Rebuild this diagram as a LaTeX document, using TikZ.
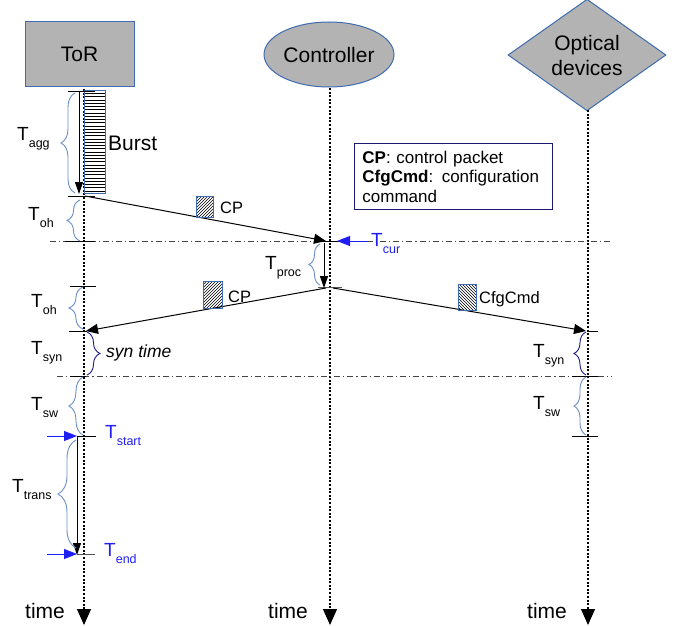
\documentclass[tikz,border=0pt]{standalone}
\usepackage{fontspec}
\setmainfont{Liberation Sans}
\usetikzlibrary{shapes.geometric,arrows.meta,decorations.pathreplacing,patterns}

\definecolor{boxfill}{HTML}{B3B3B3}
\definecolor{boxline}{HTML}{3F6BB0}
\definecolor{bracelight}{HTML}{6A8FC8}
\definecolor{bracedark}{HTML}{1C1C8A}
\definecolor{tblue}{HTML}{1F1FF5}
\definecolor{legendline}{HTML}{1A1A70}
\definecolor{tickgray}{HTML}{555555}
\definecolor{phasegray}{HTML}{444444}

% time symbol with a lowered subscript
\newcommand{\tlab}[1]{T\raisebox{-7pt}{\fontsize{12.5}{13}\selectfont #1}}

\begin{document}
\begin{tikzpicture}[x=1pt,y=-1pt,
  every node/.style={font=\fontsize{21}{23}\selectfont},
  actor/.style={draw=boxline, line width=1pt, fill=boxfill, inner sep=0pt},
  lifeline/.style={line width=1.2pt, dash pattern=on 2pt off 1.6pt,
    -{Triangle[length=16pt,width=14pt]}},
  msg/.style={line width=1pt, -{Triangle[length=12pt,width=10pt]}},
  span/.style={line width=1pt, -{Triangle[length=12pt,width=8pt]}},
  tickline/.style={line width=1pt},
  graytick/.style={line width=1pt, tickgray},
  phase/.style={line width=0.9pt, phasegray, dash pattern=on 6pt off 3pt on 1.2pt off 3pt},
  bracel/.style={decorate, decoration={brace, amplitude=#1}, line width=0.9pt, bracelight},
  braced/.style={decorate, decoration={brace, amplitude=#1}, line width=0.9pt, bracedark},
  tlabel/.style={anchor=base west, inner sep=0pt, font=\fontsize{19}{20}\selectfont},
  bluearrow/.style={tblue, line width=1pt, -{Triangle[length=13pt,width=10pt]}},
  packet/.style={draw=boxline, line width=0.8pt, inner sep=0pt},
  pklabel/.style={anchor=base west, inner sep=0pt, font=\fontsize{16.5}{18}\selectfont},
  timelabel/.style={anchor=base west, inner sep=0pt},
]
\useasboundingbox (0,0) rectangle (677,626);

% --- actors ---
\node[actor, rectangle, minimum width=109pt, minimum height=64pt] (tor) at (79.5,54) {ToR};
\node[actor, ellipse, minimum width=130pt, minimum height=65pt] (ctrl) at (329,54.5) {Controller};
\node[actor, diamond, minimum width=158pt, minimum height=94pt, align=center,
      font=\fontsize{21}{25}\selectfont] (opt) at (587,55) {Optical\\devices};

% --- lifelines ---
\coordinate (torTop) at (84,89);   \coordinate (torEnd) at (84,625);
\coordinate (ctrlTop) at (330,88); \coordinate (ctrlEnd) at (330,625);
\coordinate (optTop) at (588,110); \coordinate (optEnd) at (588,625);
\draw[lifeline] (torTop) -- (torEnd);
\draw[lifeline] (ctrlTop) -- (ctrlEnd);
\draw[lifeline] (optTop) -- (optEnd);

\node[timelabel] (timeTor) at (25,618) {time};
\node[timelabel] (timeCtrl) at (268,618) {time};
\node[timelabel] (timeOpt) at (527,618) {time};

% --- phase boundaries ---
\coordinate (ph1a) at (50,241);  \coordinate (ph1b) at (610,241);
\coordinate (ph2a) at (57,376);  \coordinate (ph2b) at (612,376);
\draw[phase] (ph1a) -- (ph1b);
\draw[phase] (ph2a) -- (ph2b);

% --- burst being aggregated ---
\foreach \yy in {93.5,96.75,...,192} \draw[line width=0.6pt] (84.5,\yy) -- (104.5,\yy);
\node[draw=boxline, line width=0.8pt, minimum width=21pt, minimum height=103pt,
      inner sep=0pt] (burst) at (94.5,141.5) {};
\node[anchor=base west, inner sep=0pt] (burstlbl) at (108,150) {Burst};

\coordinate (aggTop) at (79,91); \coordinate (aggEnd) at (79,194);
\draw[span] (aggTop) -- (aggEnd);

% --- ticks on the ToR lifeline ---
\coordinate (tk1a) at (68,91);  \coordinate (tk1b) at (95,91);
\coordinate (tk2a) at (68,196); \coordinate (tk2b) at (95,196);
\coordinate (tk8a) at (65,241); \coordinate (tk8b) at (95,241);
\coordinate (tk3a) at (70,286); \coordinate (tk3b) at (96,286);
\coordinate (tk4a) at (69,331); \coordinate (tk4b) at (87,331);
\coordinate (tk5a) at (70,376); \coordinate (tk5b) at (86,376);
\coordinate (tk6a) at (77,436); \coordinate (tk6b) at (96,436);
\coordinate (tk7a) at (77,554); \coordinate (tk7b) at (95,554);
\draw[tickline] (tk1a) -- (tk1b);
\draw[tickline] (tk2a) -- (tk2b);
\draw[tickline] (tk8a) -- (tk8b);
\draw[tickline] (tk3a) -- (tk3b);
\draw[tickline] (tk4a) -- (tk4b);
\draw[tickline] (tk5a) -- (tk5b);
\draw[tickline] (tk6a) -- (tk6b);
\draw[graytick] (tk7a) -- (tk7b);

% --- ticks on the controller and optical lifelines ---
\coordinate (ck1a) at (320,241); \coordinate (ck1b) at (342,241);
\coordinate (ck2a) at (318,287); \coordinate (ck2b) at (342,287);
\draw[tickline] (ck1a) -- (ck1b);
\draw[graytick] (ck2a) -- (ck2b);
\coordinate (ok1a) at (587,331); \coordinate (ok1b) at (598,331);
\coordinate (ok2a) at (572,376); \coordinate (ok2b) at (598,376);
\coordinate (ok3a) at (572,436); \coordinate (ok3b) at (598,436);
\draw[tickline] (ok1a) -- (ok1b);
\draw[tickline] (ok2a) -- (ok2b);
\draw[tickline] (ok3a) -- (ok3b);

% --- messages ---
\coordinate (cp1a) at (85,196);  \coordinate (cp1b) at (326,241);
\coordinate (cp2a) at (326,288); \coordinate (cp2b) at (86,331);
\coordinate (cfga) at (333,288); \coordinate (cfgb) at (586,331);
\draw[msg] (cp1a) -- (cp1b);
\draw[msg] (cp2a) -- (cp2b);
\draw[msg] (cfga) -- (cfgb);

\node[packet, pattern=north east lines, minimum width=17pt, minimum height=21pt] (cp1box) at (204.5,206.5) {};
\node[pklabel] (cp1lbl) at (220,213) {CP};
\node[packet, pattern=north east lines, minimum width=19pt, minimum height=27pt] (cp2box) at (212.5,294.5) {};
\node[pklabel] (cp2lbl) at (228,302) {CP};
\node[packet, pattern=north west lines, minimum width=18pt, minimum height=26pt] (cfgbox) at (467,297) {};
\node[pklabel] (cfglbl) at (479,303) {CfgCmd};

% --- processing at the controller ---
\coordinate (procTop) at (324,243); \coordinate (procEnd) at (324,288);
\draw[span] (procTop) -- (procEnd);

% --- transmission ---
\coordinate (transTop) at (77,436); \coordinate (transEnd) at (77,555);
\draw[span] (transTop) -- (transEnd);

% --- blue time markers ---
\coordinate (curFrom) at (368,241);  \coordinate (curTo) at (337,241);
\coordinate (startFrom) at (47,436); \coordinate (startTo) at (77,436);
\coordinate (endFrom) at (47,554);   \coordinate (endTo) at (77,554);
\draw[bluearrow] (curFrom) -- (curTo);
\draw[bluearrow] (startFrom) -- (startTo);
\draw[bluearrow] (endFrom) -- (endTo);

% --- braces ---
\coordinate (bAggT) at (75,93);   \coordinate (bAggB) at (75,193);
\coordinate (bOh1T) at (80,200);  \coordinate (bOh1B) at (80,241);
\coordinate (bProcT) at (320,244); \coordinate (bProcB) at (320,285);
\coordinate (bOh2T) at (83,287);  \coordinate (bOh2B) at (83,329);
\coordinate (bSynT) at (87,332);  \coordinate (bSynB) at (87,375);
\coordinate (bSwT) at (83,377);   \coordinate (bSwB) at (83,435);
\coordinate (bTrT) at (76,440);   \coordinate (bTrB) at (76,548);
\coordinate (rSynT) at (586,332); \coordinate (rSynB) at (586,375);
\coordinate (rSwT) at (586,377);  \coordinate (rSwB) at (586,435);
\draw[bracel=14pt] (bAggB) -- (bAggT);
\draw[bracel=13pt] (bOh1B) -- (bOh1T);
\draw[bracel=11pt] (bProcB) -- (bProcT);
\draw[bracel=14pt] (bOh2B) -- (bOh2T);
\draw[braced=13pt] (bSynT) -- (bSynB);
\draw[bracel=14pt] (bSwB) -- (bSwT);
\draw[bracel=18pt] (bTrB) -- (bTrT);
\draw[braced=12pt] (rSynB) -- (rSynT);
\draw[bracel=12pt] (rSwB) -- (rSwT);

% --- duration labels ---
\node[tlabel] (lAgg) at (17,140) {\tlab{agg}};
\node[tlabel] (lOh1) at (28,220) {\tlab{oh}};
\node[tlabel] (lProc) at (265,269) {\tlab{proc}};
\node[tlabel, tblue] (lCur) at (371,246) {\tlab{cur}};
\node[tlabel] (lOh2) at (31,307) {\tlab{oh}};
\node[tlabel] (lSyn) at (31,354) {\tlab{syn}};
\node[anchor=base west, inner sep=0pt, font=\fontsize{17.5}{19}\selectfont\itshape] (synTime) at (106,357) {syn time};
\node[tlabel] (lSw) at (31,410) {\tlab{sw}};
\node[tlabel, tblue] (lStart) at (105,438) {\tlab{start}};
\node[tlabel] (lTrans) at (12,492) {\tlab{trans}};
\node[tlabel, tblue] (lEnd) at (104,556) {\tlab{end}};
\node[tlabel] (rSyn) at (533,357) {\tlab{syn}};
\node[tlabel] (rSw) at (533,409) {\tlab{sw}};

% --- legend ---
\node[draw=legendline, line width=0.9pt, anchor=north west, text width=182pt,
      inner xsep=8pt, inner ysep=4pt, align=left, minimum height=66pt,
      font=\fontsize{17}{19.5}\selectfont] (legend) at (354,143)
  {\textbf{CP}: control packet\\\textbf{CfgCmd}: configuration\\command};
\end{tikzpicture}
\end{document}
